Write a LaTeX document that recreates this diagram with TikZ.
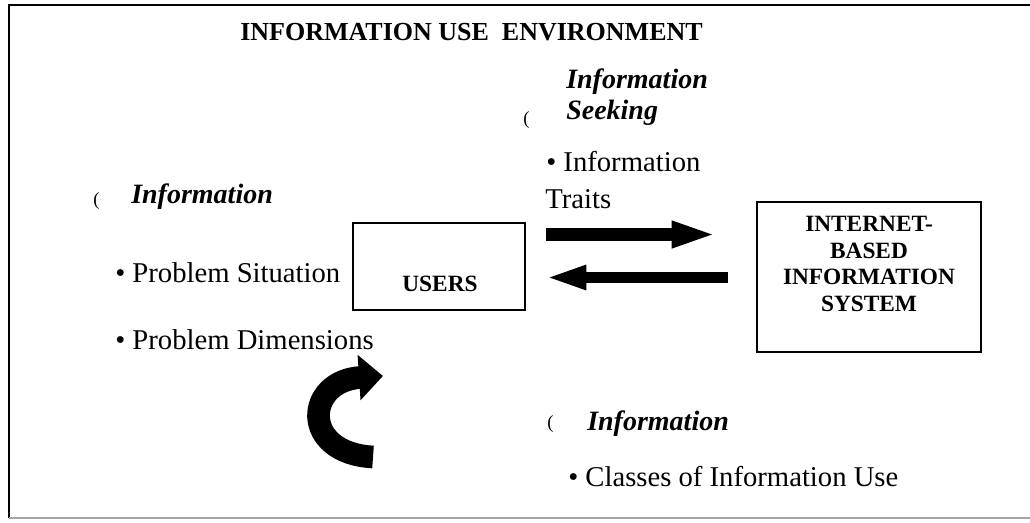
\documentclass[tikz,border=0pt]{standalone}
\usepackage{fontspec}
\setmainfont{Liberation Serif}
\usetikzlibrary{arrows.meta}
\begin{document}
\begin{tikzpicture}[x=0.75pt,y=-0.75pt,
 body/.style={inner sep=0pt, anchor=base west, font=\fontsize{21.5}{25}\selectfont},
 headtext/.style={inner sep=0pt, anchor=base west, font=\fontsize{21}{25}\selectfont\bfseries\itshape},
 paren/.style={inner sep=0pt, anchor=base west, font=\fontsize{14}{16}\selectfont},
 titletext/.style={inner sep=0pt, anchor=base west, font=\fontsize{19.5}{22}\selectfont\bfseries},
 boxshape/.style={draw, line width=1.5pt, inner sep=0pt},
 boxtext/.style={inner sep=0pt, align=center, font=\fontsize{17.5}{19.8}\selectfont\bfseries},
 fatright/.style={line width=9.75pt, -{Triangle[length=34pt,width=18pt]}},
 fatleft/.style={line width=8.25pt, -{Triangle[length=31pt,width=16.5pt]}},
 curl/.style={line width=17pt, -{Triangle[length=18pt,width=33pt]}},
]
\useasboundingbox (0,0) rectangle (1030,522);
% frame
\draw[line width=1.5pt] (1030,5) -- (9,5) -- (9,518);
\draw[line width=1pt, black!35] (9,518) -- (1030,518);

% title
\node[titletext] (title) at (240,40) {INFORMATION USE\ \ ENVIRONMENT};

% boxes
\node[boxshape, minimum width=129pt, minimum height=65pt] (users) at (439,266.5) {};
\node[boxtext] (userstext) at (440,284) {USERS};
\node[boxshape, minimum width=168pt, minimum height=112.5pt] (ibis) at (869,277) {};
\node[boxtext] (ibistext) at (869,264) {INTERNET-\\BASED\\INFORMATION\\SYSTEM};

% left group
\node[paren] (lp) at (93,205) {(};
\node[headtext] (linfo) at (131,203) {Information};
\node[body] (lsit) at (115,282) {\textbullet\ Problem Situation};
\node[body] (ldim) at (115,349) {\textbullet\ Problem Dimensions};

% top group
\node[headtext] (tinfo) at (566,88) {Information};
\node[headtext] (tseek) at (566,119) {Seeking};
\node[paren] (tp) at (523,124) {(};
\node[body] (tinf2) at (546,171) {\textbullet\ Information};
\node[body] (ttraits) at (545,208) {Traits};

% bottom group
\node[paren] (bp) at (547,428) {(};
\node[headtext] (binfo) at (587,430) {Information};
\node[body] (bclass) at (568,486) {\textbullet\ Classes of Information Use};

% fat arrows between users and system
\coordinate (r1s) at (546,234.5);
\coordinate (r1e) at (717,234.5);
\coordinate (l1s) at (728,277.5);
\coordinate (l1e) at (545,277.5);
\draw[fatright] (r1s) -- (r1e);
\draw[fatleft] (l1s) -- (l1e);

% curved arrow
\coordinate (cs) at (373,457);
\coordinate (ce) at (383,376);
\draw[curl] (cs) .. controls (300,453) and (305,381) .. (ce);
\end{tikzpicture}
\end{document}
